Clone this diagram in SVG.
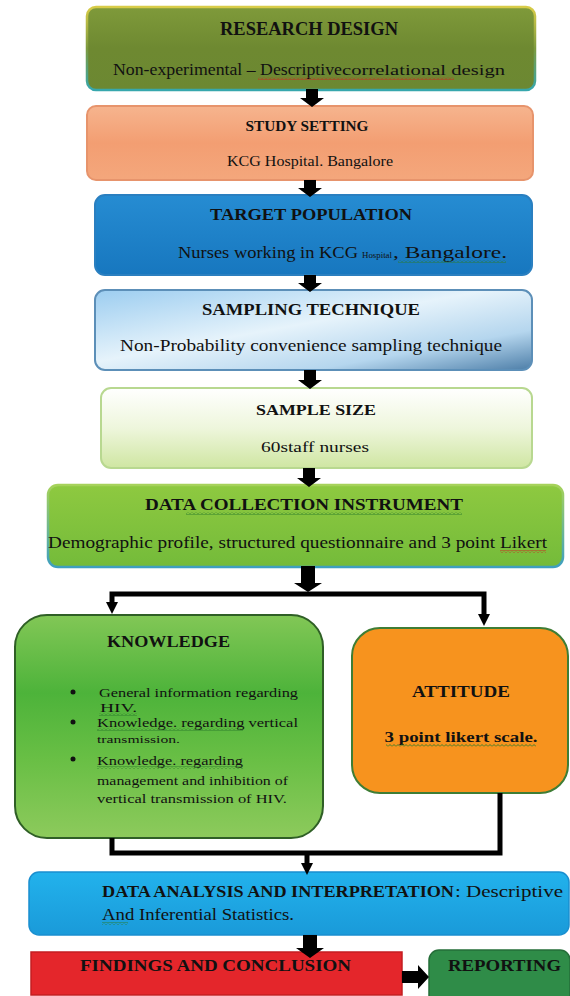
<svg xmlns="http://www.w3.org/2000/svg" width="570" height="996" viewBox="0 0 570 996">
<style>
text{font-family:"Liberation Serif","DejaVu Serif","Noto Serif",serif;fill:#111;}
.b{font-weight:bold;}
.line{fill:none;stroke:#000;stroke-width:5;}
.blk{fill:#000;}
</style>
<defs>
<linearGradient id="g1" x1="0" y1="0" x2="0" y2="1"><stop offset="0" stop-color="#7f9a3a"/><stop offset="0.5" stop-color="#6e8931"/><stop offset="1" stop-color="#6c8832"/></linearGradient>
<linearGradient id="s1" x1="0" y1="0" x2="0" y2="1"><stop offset="0" stop-color="#d8cc48"/><stop offset="0.5" stop-color="#7d9a3e"/><stop offset="1" stop-color="#36a7ad"/></linearGradient>
<linearGradient id="g2" x1="0" y1="0" x2="0" y2="1"><stop offset="0" stop-color="#f6b48e"/><stop offset="0.5" stop-color="#f39e72"/><stop offset="1" stop-color="#f4a77c"/></linearGradient>
<linearGradient id="g3" x1="0" y1="0" x2="0" y2="1"><stop offset="0" stop-color="#268cd2"/><stop offset="1" stop-color="#1777bf"/></linearGradient>
<linearGradient id="g4" x1="0" y1="0" x2="1" y2="1"><stop offset="0" stop-color="#9ccdf0"/><stop offset="0.45" stop-color="#e6f3fb"/><stop offset="0.75" stop-color="#b5d6ee"/><stop offset="1" stop-color="#4d7ea8"/></linearGradient>
<linearGradient id="g5" x1="0" y1="0" x2="0" y2="1"><stop offset="0" stop-color="#ffffff"/><stop offset="0.5" stop-color="#eef6dc"/><stop offset="1" stop-color="#cfe6a2"/></linearGradient>
<linearGradient id="g6" x1="0" y1="0" x2="0" y2="1"><stop offset="0" stop-color="#8ec940"/><stop offset="1" stop-color="#74bb3a"/></linearGradient>
<linearGradient id="s6" x1="0" y1="0" x2="0" y2="1"><stop offset="0" stop-color="#a6d25a"/><stop offset="1" stop-color="#3e9fc0"/></linearGradient>
<linearGradient id="gk" x1="0" y1="0" x2="0" y2="1"><stop offset="0" stop-color="#82c756"/><stop offset="0.35" stop-color="#4db33a"/><stop offset="0.65" stop-color="#69bf45"/><stop offset="1" stop-color="#8dca5c"/></linearGradient>
<linearGradient id="gd" x1="0" y1="0" x2="0" y2="1"><stop offset="0" stop-color="#22b2ec"/><stop offset="1" stop-color="#1a9ad9"/></linearGradient>
<pattern id="wr" width="4" height="3" patternUnits="userSpaceOnUse"><path d="M0,2.5 L2,0.5 L4,2.5" fill="none" stroke="#d02020" stroke-width="0.9"/></pattern>
<pattern id="wg" width="4" height="3" patternUnits="userSpaceOnUse"><path d="M0,2.5 L2,0.5 L4,2.5" fill="none" stroke="#2a7a2a" stroke-width="0.9"/></pattern>
<marker id="ah" markerUnits="userSpaceOnUse" markerWidth="14" markerHeight="14" refX="2" refY="6" orient="auto"><path d="M0,0 L12,6 L0,12 z" fill="#000"/></marker>
</defs>

<g id="research-design">
<rect x="87" y="7" width="448" height="83" rx="9" fill="url(#g1)" stroke="url(#s1)" stroke-width="2.5"/>
<text class="b" x="309" y="35" font-size="19" text-anchor="middle" textLength="178" lengthAdjust="spacingAndGlyphs">RESEARCH DESIGN</text>
<text x="113" y="75" font-size="17" textLength="229" lengthAdjust="spacingAndGlyphs">Non-experimental – Descriptive</text>
<text x="342" y="75" font-size="14" textLength="163" lengthAdjust="spacingAndGlyphs">correlational design</text>
<rect x="258" y="77" width="196" height="3" fill="url(#wr)"/>
</g>

<g id="study-setting">
<rect x="87" y="106" width="446" height="74" rx="9" fill="url(#g2)" stroke="#e7946c" stroke-width="2"/>
<text class="b" x="307" y="131" font-size="15" text-anchor="middle" textLength="123" lengthAdjust="spacingAndGlyphs">STUDY SETTING</text>
<text x="310" y="166" font-size="14" text-anchor="middle" textLength="166" lengthAdjust="spacingAndGlyphs">KCG Hospital. Bangalore</text>
</g>

<g id="target-population">
<rect x="95" y="195" width="437" height="80" rx="10" fill="url(#g3)" stroke="#2a7fc0" stroke-width="2"/>
<text class="b" x="311" y="220" font-size="17" text-anchor="middle" textLength="202" lengthAdjust="spacingAndGlyphs">TARGET POPULATION</text>
<text x="178" y="258" font-size="17" textLength="180" lengthAdjust="spacingAndGlyphs">Nurses working in KCG</text>
<text x="362" y="258" font-size="9" textLength="30" lengthAdjust="spacingAndGlyphs">Hospital</text>
<text x="393" y="258" font-size="17" textLength="114" lengthAdjust="spacingAndGlyphs">, Bangalore.</text>
<rect x="398" y="260" width="108" height="3" fill="url(#wg)"/>
</g>

<g id="sampling-technique">
<rect x="95" y="290" width="437" height="80" rx="10" fill="url(#g4)" stroke="#5c8fb8" stroke-width="2"/>
<text class="b" x="311" y="315" font-size="17" text-anchor="middle" textLength="218" lengthAdjust="spacingAndGlyphs">SAMPLING TECHNIQUE</text>
<text x="120" y="351" font-size="17" textLength="382" lengthAdjust="spacingAndGlyphs">Non-Probability convenience sampling technique</text>
</g>

<g id="sample-size">
<rect x="101" y="388" width="431" height="80" rx="10" fill="url(#g5)" stroke="#b8d890" stroke-width="2"/>
<text class="b" x="316" y="415" font-size="15" text-anchor="middle" textLength="120" lengthAdjust="spacingAndGlyphs">SAMPLE SIZE</text>
<text x="315" y="452" font-size="15" text-anchor="middle" textLength="108" lengthAdjust="spacingAndGlyphs">60staff nurses</text>
</g>

<g id="data-collection">
<rect x="48" y="485" width="515" height="82" rx="10" fill="url(#g6)" stroke="url(#s6)" stroke-width="2.5"/>
<text class="b" x="304" y="510" font-size="17" text-anchor="middle" textLength="318" lengthAdjust="spacingAndGlyphs">DATA COLLECTION INSTRUMENT</text>
<rect x="186" y="512" width="276" height="3" fill="url(#wg)"/>
<text x="48" y="548" font-size="17" textLength="499" lengthAdjust="spacingAndGlyphs">Demographic profile, structured questionnaire and 3 point Likert</text>
<rect x="500" y="550" width="46" height="3" fill="url(#wr)"/>
</g>

<g id="knowledge">
<rect x="15" y="615" width="308" height="223" rx="32" fill="url(#gk)" stroke="#2f5f26" stroke-width="2"/>
<text class="b" x="107" y="647" font-size="16" textLength="123" lengthAdjust="spacingAndGlyphs">KNOWLEDGE</text>
<circle cx="73" cy="692" r="2.5" fill="#111"/>
<circle cx="73" cy="722" r="2.5" fill="#111"/>
<circle cx="73" cy="759" r="2.5" fill="#111"/>
<text x="99" y="697" font-size="13" textLength="199" lengthAdjust="spacingAndGlyphs">General information regarding</text>
<text x="100" y="712" font-size="12" textLength="37" lengthAdjust="spacingAndGlyphs">HIV.</text>
<rect x="99" y="713" width="38" height="3" fill="url(#wg)"/>
<text x="97" y="727" font-size="13" textLength="201" lengthAdjust="spacingAndGlyphs">Knowledge. regarding vertical</text>
<rect x="97" y="728" width="146" height="3" fill="url(#wg)"/>
<text x="97" y="743" font-size="11" textLength="83" lengthAdjust="spacingAndGlyphs">transmission.</text>
<text x="97" y="765" font-size="13" textLength="146" lengthAdjust="spacingAndGlyphs">Knowledge. regarding</text>
<rect x="97" y="766" width="146" height="3" fill="url(#wg)"/>
<text x="97" y="785" font-size="13" textLength="191" lengthAdjust="spacingAndGlyphs">management and inhibition of</text>
<text x="97" y="803" font-size="13" textLength="190" lengthAdjust="spacingAndGlyphs">vertical transmission of HIV.</text>
</g>

<g id="attitude">
<rect x="352" y="628" width="216" height="165" rx="28" fill="#f7931e" stroke="#3f7d35" stroke-width="2"/>
<text class="b" x="461" y="697" font-size="16" text-anchor="middle" textLength="98" lengthAdjust="spacingAndGlyphs">ATTITUDE</text>
<text class="b" x="461" y="742" font-size="15" text-anchor="middle" textLength="153" lengthAdjust="spacingAndGlyphs">3 point likert scale.</text>
<rect x="386" y="744" width="150" height="3" fill="url(#wg)"/>
</g>

<g id="data-analysis">
<rect x="29" y="872" width="540" height="63" rx="10" fill="url(#gd)" stroke="#1a8fd0" stroke-width="1.5"/>
<text class="b" x="102" y="897" font-size="16" textLength="352" lengthAdjust="spacingAndGlyphs">DATA ANALYSIS AND INTERPRETATION</text>
<text x="455" y="897" font-size="16" textLength="108" lengthAdjust="spacingAndGlyphs">: Descriptive</text>
<text x="102" y="920" font-size="16" textLength="192" lengthAdjust="spacingAndGlyphs">And Inferential Statistics.</text>
<rect x="102" y="922" width="26" height="3" fill="url(#wg)"/>
</g>

<g id="findings">
<rect x="31" y="952" width="371" height="43" fill="#e4262b" stroke="#c41e22" stroke-width="1.5"/>
<text class="b" x="80" y="971" font-size="16" textLength="271" lengthAdjust="spacingAndGlyphs">FINDINGS AND CONCLUSION</text>
</g>

<g id="reporting">
<rect x="429" y="950" width="141" height="56" rx="10" fill="#2f8c48" stroke="#256e39" stroke-width="1.5"/>
<text class="b" x="448" y="971" font-size="16" textLength="113" lengthAdjust="spacingAndGlyphs">REPORTING</text>
</g>

<g id="connectors">
<polygon class="blk" points="306,89 318,89 318,98 324,98 312,107 300,98 306,98"/>
<polygon class="blk" points="304,180 316,180 316,188 322,188 310,197 298,188 304,188"/>
<polygon class="blk" points="304,275 316,275 316,283 322,283 310,292 298,283 304,283"/>
<polygon class="blk" points="304,370 316,370 316,380 322,380 310,389 298,380 304,380"/>
<polygon class="blk" points="303,468 315,468 315,478 321,478 309,487 297,478 303,478"/>
<polygon class="blk" points="301,566 315,566 315,583 322,583 308,592 294,583 301,583"/>
<path class="line" d="M308,594 H112 V604" marker-end="url(#ah)"/>
<path class="line" d="M308,594 H484 V616" marker-end="url(#ah)"/>
<path class="line" d="M112,838 V853 H500 V793"/>
<path class="line" d="M307,853 V865" marker-end="url(#ah)"/>
<polygon class="blk" points="303,935 317,935 317,948 324,948 310,958 296,948 303,948"/>
<polygon class="blk" points="402,971 418,971 418,965 429,977 418,989 418,983 402,983"/>
</g>
</svg>
